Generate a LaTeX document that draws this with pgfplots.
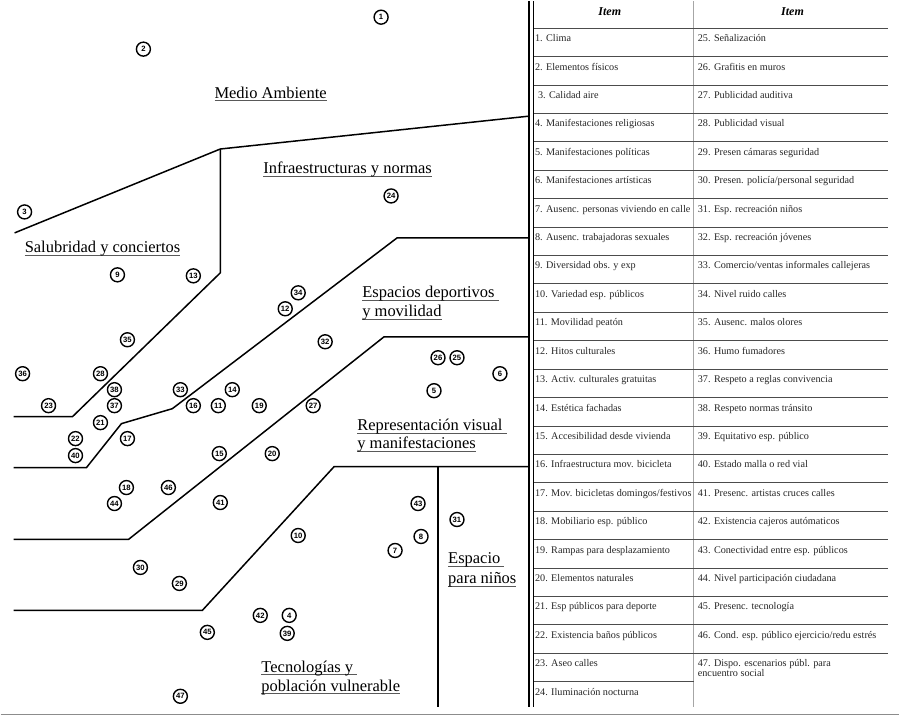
\documentclass[border=0pt]{standalone}
\usepackage{pgfplots}
\pgfplotsset{compat=1.18}
\usepackage{fontspec}
\setmainfont{Liberation Serif}
\newfontfamily\numfont{Liberation Sans}
\newsavebox\ulbox
\newcommand\gul[1]{\sbox\ulbox{#1}\rlap{\textcolor{black!65}{\rule[-3pt]{\wd\ulbox}{0.9pt}}}\usebox\ulbox}
\begin{document}
\begin{tikzpicture}[
  tl/.style={anchor=base west, inner sep=0pt, font=\fontsize{10.2}{11}\selectfont, text=black!85},
  rl/.style={anchor=base west, inner sep=0pt, font=\fontsize{16.5}{18}\selectfont},
  hl/.style={black!70, line width=0.8pt},
]
\begin{axis}[
  scale only axis, width=900pt, height=716pt,
  xmin=0, xmax=900, ymin=0, ymax=716, y dir=reverse,
  axis lines=none, clip=false,
]
% invisible frame
\path (axis cs:0,0) rectangle (axis cs:900,716);
% boundaries
\addplot[black, line width=1.5pt] coordinates {(14,232) (220,148) (530,115)};
\addplot[black, line width=1.5pt] coordinates {(220,148) (220,272) (72,416) (13,416)};
\addplot[black, line width=1.5pt] coordinates {(530,237) (397,237) (172,408) (121,423) (86,467) (13,467)};
\addplot[black, line width=1.5pt] coordinates {(530,336) (384,336) (128,539) (13,539)};
\addplot[black, line width=1.5pt] coordinates {(530,466) (334,466) (202,610) (13,610)};
\addplot[black, line width=1.5pt] coordinates {(438,466) (438,707)};
% points
\addplot[only marks, mark=*, mark size=7pt,
  mark options={fill=white, draw=black, line width=1.4pt},
  point meta=explicit symbolic, nodes near coords, nodes near coords align=center,
  every node near coord/.append style={anchor=center, inner sep=0pt,
    font=\numfont\bfseries\fontsize{7.7}{8}\selectfont}]
table[x=x, y=y, meta=label] {
label x y
1 381 16
2 143 48
3 24 211
4 289 615
5 434 390
6 500 373
7 395 550
8 421 536
9 117 274
10 298 535
11 218 405
12 285 308
13 193 275
14 232 389
15 219 453
16 193 405
17 127 438
18 126 487
19 259 405
20 272 453
21 100 422
22 75 438
23 48 405
24 391 195
25 457 357
26 438 357
27 313 405
28 100 373
29 179 583
30 140 567
31 457 519
32 325 341
33 180 389
34 298 292
35 127 339
36 22 373
37 114 405
38 114 389
39 287 633
40 75 455
41 220 502
42 260 615
43 418 503
44 114 503
45 207 632
46 168 487
47 180 696
};
% region labels
\node[rl] at (axis cs:214,97) {\gul{Medio Ambiente}};
\node[rl] at (axis cs:263,173) {\gul{Infraestructuras y normas}};
\node[rl] at (axis cs:24,252) {\gul{Salubridad y conciertos}};
\node[rl] at (axis cs:362,297) {\gul{Espacios deportivos\ }};
\node[rl] at (axis cs:362,316) {\gul{y movilidad}};
\node[rl] at (axis cs:357,430) {\gul{Representación visual\ }};
\node[rl] at (axis cs:357,448) {\gul{y manifestaciones}};
\node[rl] at (axis cs:448,563) {\gul{Espacio\ }};
\node[rl] at (axis cs:448,583) {\gul{para niños}};
\node[rl] at (axis cs:261,672) {\gul{Tecnologías y\ }};
\node[rl] at (axis cs:261,691) {\gul{población vulnerable}};
% table frame
\draw[black, line width=2.4pt] (axis cs:529,0) -- (axis cs:529,707);
\draw[black, line width=1.1pt] (axis cs:533.5,0) -- (axis cs:533.5,707);
\draw[black!35, line width=0.8pt] (axis cs:694,0) -- (axis cs:694,707);
\draw[black!45, line width=1.2pt] (axis cs:0,714) -- (axis cs:900,714);
% row lines
\draw[hl] (axis cs:534,27.0) -- (axis cs:889,27.0);
\draw[hl] (axis cs:534,55.45) -- (axis cs:889,55.45);
\draw[hl] (axis cs:534,83.9) -- (axis cs:889,83.9);
\draw[hl] (axis cs:534,112.35) -- (axis cs:889,112.35);
\draw[hl] (axis cs:534,140.8) -- (axis cs:889,140.8);
\draw[hl] (axis cs:534,169.25) -- (axis cs:889,169.25);
\draw[hl] (axis cs:534,197.7) -- (axis cs:889,197.7);
\draw[hl] (axis cs:534,226.15) -- (axis cs:889,226.15);
\draw[hl] (axis cs:534,254.6) -- (axis cs:889,254.6);
\draw[hl] (axis cs:534,283.05) -- (axis cs:889,283.05);
\draw[hl] (axis cs:534,311.5) -- (axis cs:889,311.5);
\draw[hl] (axis cs:534,339.95) -- (axis cs:889,339.95);
\draw[hl] (axis cs:534,368.4) -- (axis cs:889,368.4);
\draw[hl] (axis cs:534,396.85) -- (axis cs:889,396.85);
\draw[hl] (axis cs:534,425.3) -- (axis cs:889,425.3);
\draw[hl] (axis cs:534,453.75) -- (axis cs:889,453.75);
\draw[hl] (axis cs:534,482.2) -- (axis cs:889,482.2);
\draw[hl] (axis cs:534,510.65) -- (axis cs:889,510.65);
\draw[hl] (axis cs:534,539.1) -- (axis cs:889,539.1);
\draw[hl] (axis cs:534,567.55) -- (axis cs:889,567.55);
\draw[hl] (axis cs:534,596.0) -- (axis cs:889,596.0);
\draw[hl] (axis cs:534,624.45) -- (axis cs:889,624.45);
\draw[hl] (axis cs:534,652.9) -- (axis cs:889,652.9);
\draw[hl] (axis cs:534,681.35) -- (axis cs:694,681.35);
% headers
\node[anchor=base, inner sep=0pt, font=\fontsize{12}{13}\selectfont\bfseries\itshape] at (axis cs:610,14) {Item};
\node[anchor=base, inner sep=0pt, font=\fontsize{12}{13}\selectfont\bfseries\itshape] at (axis cs:793,14) {Item};
% left column
\node[tl] at (axis cs:535,40.5) {1. Clima};
\node[tl] at (axis cs:535,69.0) {2. Elementos físicos};
\node[tl] at (axis cs:538,97.4) {3. Calidad aire};
\node[tl] at (axis cs:535,125.9) {4. Manifestaciones religiosas};
\node[tl] at (axis cs:535,154.3) {5. Manifestaciones políticas};
\node[tl] at (axis cs:535,182.8) {6. Manifestaciones artísticas};
\node[tl] at (axis cs:535,211.2) {7. Ausenc. personas viviendo en calle};
\node[tl] at (axis cs:535,239.7) {8. Ausenc. trabajadoras sexuales};
\node[tl] at (axis cs:535,268.1) {9. Diversidad obs. y exp};
\node[tl] at (axis cs:535,296.6) {10. Variedad esp. públicos};
\node[tl] at (axis cs:535,325.0) {11. Movilidad peatón};
\node[tl] at (axis cs:535,353.5) {12. Hitos culturales};
\node[tl] at (axis cs:535,381.9) {13. Activ. culturales gratuitas};
\node[tl] at (axis cs:535,410.4) {14. Estética fachadas};
\node[tl] at (axis cs:535,438.8) {15. Accesibilidad desde vivienda};
\node[tl] at (axis cs:535,467.3) {16. Infraestructura mov. bicicleta};
\node[tl] at (axis cs:535,495.7) {17. Mov. bicicletas domingos/festivos};
\node[tl] at (axis cs:535,524.2) {18. Mobiliario esp. público};
\node[tl] at (axis cs:535,552.6) {19. Rampas para desplazamiento};
\node[tl] at (axis cs:535,581.1) {20. Elementos naturales};
\node[tl] at (axis cs:535,609.5) {21. Esp públicos para deporte};
\node[tl] at (axis cs:535,638.0) {22. Existencia baños públicos};
\node[tl] at (axis cs:535,666.4) {23. Aseo calles};
\node[tl] at (axis cs:535,694.9) {24. Iluminación nocturna};
% right column
\node[tl] at (axis cs:698,40.5) {25. Señalización};
\node[tl] at (axis cs:698,69.0) {26. Grafitis en muros};
\node[tl] at (axis cs:698,97.4) {27. Publicidad auditiva};
\node[tl] at (axis cs:698,125.9) {28. Publicidad visual};
\node[tl] at (axis cs:698,154.3) {29. Presen cámaras seguridad};
\node[tl] at (axis cs:698,182.8) {30. Presen. policía/personal seguridad};
\node[tl] at (axis cs:698,211.2) {31. Esp. recreación niños};
\node[tl] at (axis cs:698,239.7) {32. Esp. recreación jóvenes};
\node[tl] at (axis cs:698,268.1) {33. Comercio/ventas informales callejeras};
\node[tl] at (axis cs:698,296.6) {34. Nivel ruido calles};
\node[tl] at (axis cs:698,325.0) {35. Ausenc. malos olores};
\node[tl] at (axis cs:698,353.5) {36. Humo fumadores};
\node[tl] at (axis cs:698,381.9) {37. Respeto a reglas convivencia};
\node[tl] at (axis cs:698,410.4) {38. Respeto normas tránsito};
\node[tl] at (axis cs:698,438.8) {39. Equitativo esp. público};
\node[tl] at (axis cs:698,467.3) {40. Estado malla o red vial};
\node[tl] at (axis cs:698,495.7) {41. Presenc. artistas cruces calles};
\node[tl] at (axis cs:698,524.2) {42. Existencia cajeros autómaticos};
\node[tl] at (axis cs:698,552.6) {43. Conectividad entre esp. públicos};
\node[tl] at (axis cs:698,581.1) {44. Nivel participación ciudadana};
\node[tl] at (axis cs:698,609.5) {45. Presenc. tecnología};
\node[tl] at (axis cs:698,638.0) {46. Cond. esp. público ejercicio/redu estrés};
\node[tl] at (axis cs:698,666.4) {47. Dispo. escenarios públ. para};
\node[tl] at (axis cs:698,676.6) {encuentro social};
\end{axis}
\end{tikzpicture}
\end{document}
